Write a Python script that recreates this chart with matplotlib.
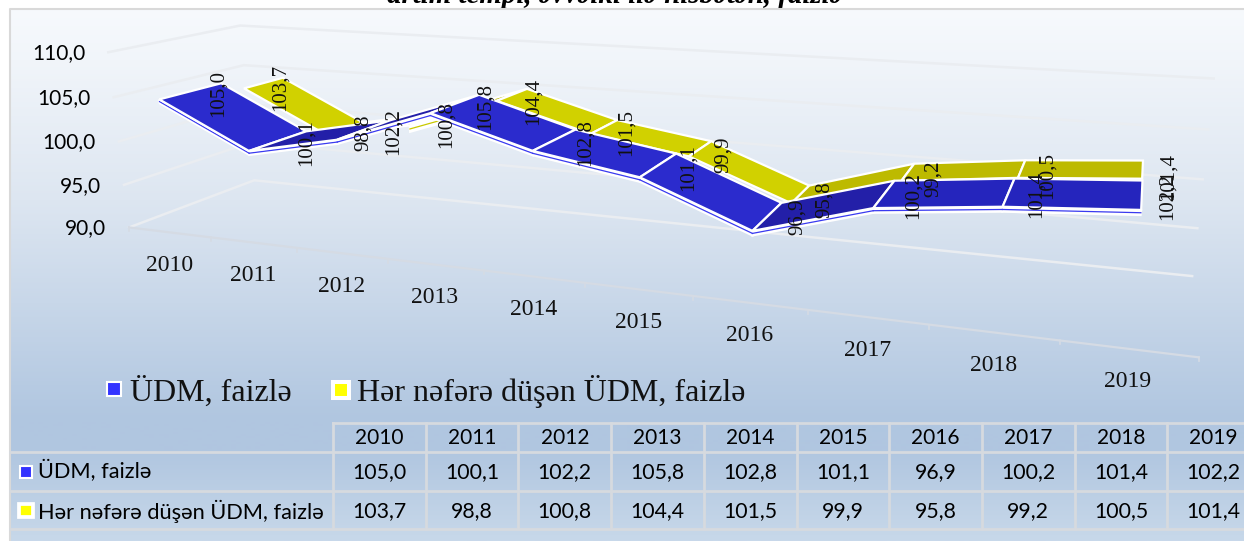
import numpy as np
import matplotlib
matplotlib.use("Agg")
import matplotlib.pyplot as plt
from matplotlib.patches import Polygon, Rectangle

years = [2010, 2011, 2012, 2013, 2014, 2015, 2016, 2017, 2018, 2019]
udm = [105.0, 100.1, 102.2, 105.8, 102.8, 101.1, 96.9, 100.2, 101.4, 102.2]
per_person = [103.7, 98.8, 100.8, 104.4, 101.5, 99.9, 95.8, 99.2, 100.5, 101.4]
y_ticks = [90, 95, 100, 105, 110]

title = "artım tempi, əvvəlki ilə nisbətən, faizlə"
name_udm = "ÜDM, faizlə"
name_per = "Hər nəfərə düşən ÜDM, faizlə"

SERIF = ["Liberation Serif", "DejaVu Serif"]
SANS = ["Lato", "Open Sans", "DejaVu Sans"]

# 3d view of the excel chart, fitted to the picture
VIEW = np.array([[76.2209, 160.366, -1.23065, 129.049],
                 [3.82657, -22.178, -8.85431, 227.441],
                 [-0.025638, 0.138491, -0.00179589, 1.0]])
GRID = "#eaedf1"


def view(s, d, v):
    x = np.array([s, d, v - 90.0, 1.0])
    w = VIEW[2] @ x
    return (VIEW[0] @ x) / w, (VIEW[1] @ x) / w


def fmt(v):
    return f"{v:.1f}".replace(".", ",")


fig = plt.figure(figsize=(12.44, 5.41), dpi=100, facecolor="white")
ax = fig.add_axes([0, 0, 1, 1])
ax.set_xlim(0, 1244)
ax.set_ylim(541, 0)
ax.axis("off")

# title is cut off by the panel in the original
ax.text(615, 3, title, family=SERIF, style="italic", weight="bold", fontsize=20.8, ha="center", va="baseline", zorder=0)

# panel background
rows = np.arange(9, 542)
stops_y = [9, 60, 200, 420, 450, 535, 541]
stops_c = np.array([[247, 250, 253], [241, 245, 250], [221, 230, 241], [176, 198, 224],
                    [176, 198, 224], [198, 215, 233], [199, 216, 234]]) / 255
bg = np.stack([np.interp(rows, stops_y, stops_c[:, k]) for k in range(3)], axis=1)[:, None, :]
ax.imshow(bg, extent=(10, 1244, 541, 9), aspect="auto", zorder=1)
ax.set_xlim(0, 1244)
ax.set_ylim(541, 0)
ax.plot([10, 10, 1244], [541, 9, 9], color="#d9d9d9", lw=1.5, zorder=2)

# walls and floor
for v in y_ticks:
    pts = [view(0, 0, v), view(0, 1, v), view(10, 1, v)]
    ax.plot(*zip(*pts), color=GRID, lw=1.8, zorder=3)
front = [view(s, 0, 90) for s in range(11)]
ax.plot(*zip(*front), color="#d5dbe4", lw=1.6, zorder=3)
for x, y in front:
    ax.plot([x, x], [y, y + 4], color="#d5dbe4", lw=1.2, zorder=3)

for v in y_ticks:
    x, y = view(0, 0, v)
    ax.text(x - 23, y + 1, fmt(v), family=SANS, fontsize=15, ha="right", va="center", zorder=8)

for i, yr in enumerate(years):
    x, y = view(i + 0.5, 0, 90)
    ax.text(x, y + 33, str(yr), family=SERIF, fontsize=17, ha="center", va="center", color="#111111", zorder=8)


def ribbon(vals, d0, d1, thick, base, mid, dark, strip, z, rising_only=False):
    for i in range(len(vals) - 1):
        rise = vals[i + 1] - vals[i]
        a, b = i + 0.5, i + 1.5
        # white underside of the ribbon, with its thin coloured line
        if rise > 2 or not rising_only:
            side = [view(a, d0, vals[i]), view(b, d0, vals[i + 1]),
                    view(b, d0, vals[i + 1] - thick), view(a, d0, vals[i] - thick)]
            ax.add_patch(Polygon(side, closed=True, fc="white", ec="white", lw=1.5, zorder=z))
            thin = [view(a, d0, vals[i] - thick * 0.55), view(b, d0, vals[i + 1] - thick * 0.55)]
            ax.plot(*zip(*thin), color=strip, lw=0.9, zorder=z + 0.1)
        color = dark if rise > 2 else (mid if rise > 0 else base)
        quad = [view(a, d0, vals[i]), view(b, d0, vals[i + 1]),
                view(b, d1, vals[i + 1]), view(a, d1, vals[i])]
        ax.add_patch(Polygon(quad, closed=True, fc=color, ec="white", lw=1.6, joinstyle="miter", zorder=z + 0.2 + i * 0.01))


ribbon(per_person, 0.668, 1.007, 0.75, "#d1d100", "#bdba00", "#bdba00", "#c9c900", 4, rising_only=True)
ribbon(udm, 0.031, 0.491, 0.45, "#2b2bcd", "#2525bd", "#231fa8", "#3a3af0", 5)

# data labels stand behind each ribbon, drifting right with the year
for vals, d in [(udm, 0.491), (per_person, 1.007)]:
    for i, v in enumerate(vals):
        x, y = view(i + 0.5, d, v)
        ax.text(x - 3 + 3.1 * i, y + 10 + 0.7 * i, fmt(v), family=SERIF, fontsize=15, rotation=90,
                ha="center", va="center", color="#111111", zorder=9)


def key(x, y, size, color, edge=1.5):
    ax.add_patch(Rectangle((x, y), size, size, fc=color, ec="white", lw=edge, zorder=8))


# legend
key(107, 382, 14, "#3333ff")
ax.text(130, 392, name_udm, family=SERIF, fontsize=23, ha="left", va="center", color="#111111", zorder=8)
key(333, 382, 16, "#ffff00", edge=2.9)
ax.text(357, 392, name_per, family=SERIF, fontsize=23, ha="left", va="center", color="#111111", zorder=8)

# data table
col0 = 333
col_w = 92.7
line = "#d6dadf"
for y in [452, 491, 529]:
    ax.plot([10, 1244], [y, y], color=line, lw=2, zorder=7)
ax.plot([col0, 1244], [423, 423], color=line, lw=2, zorder=7)
for i in range(len(years)):
    x = col0 + col_w * i
    ax.plot([x, x], [423, 529], color=line, lw=2, zorder=7)
    cx = x + col_w / 2
    ax.text(cx, 438, str(years[i]), family=SANS, fontsize=15, ha="center", va="center", zorder=8)
    ax.text(cx, 472, fmt(udm[i]), family=SANS, fontsize=15.3, ha="center", va="center", zorder=8)
    ax.text(cx, 511, fmt(per_person[i]), family=SANS, fontsize=15.3, ha="center", va="center", zorder=8)
key(19.5, 465.5, 12, "#3333ff")
ax.text(38, 471, name_udm, family=SANS, fontsize=15.7, ha="left", va="center", zorder=8)
key(19, 503.5, 13.5, "#ffff00", edge=2.7)
ax.text(38, 511, name_per, family=SANS, fontsize=15.7, ha="left", va="center", zorder=8)

fig.savefig("out.png", dpi=100)
